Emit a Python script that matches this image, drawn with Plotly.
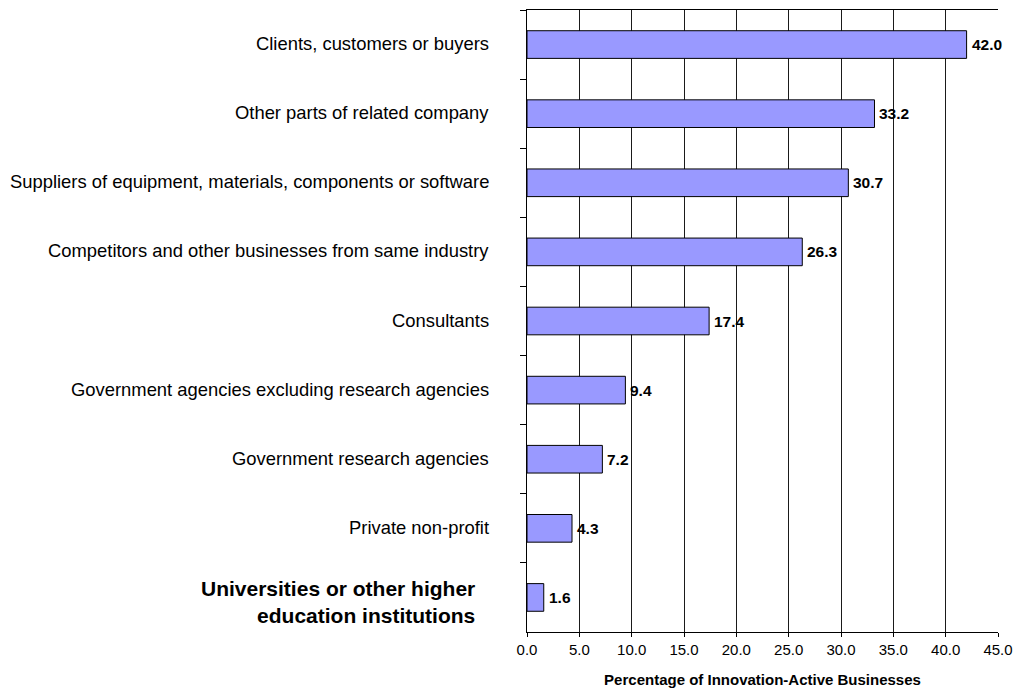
import plotly.graph_objects as go

# Collaboration partners, listed top to bottom
categories = [
    "Clients, customers or buyers",
    "Other parts of related company",
    "Suppliers of equipment, materials, components or software",
    "Competitors and other businesses from same industry",
    "Consultants",
    "Government agencies excluding research agencies",
    "Government research agencies",
    "Private non-profit",
    "Universities or other higher education institutions",
]
values = [42.0, 33.2, 30.7, 26.3, 17.4, 9.4, 7.2, 4.3, 1.6]
x_ticks = [0, 5, 10, 15, 20, 25, 30, 35, 40, 45]
x_title = "Percentage of Innovation-Active Businesses"
highlight = "Universities or other higher education institutions"
highlight_text = "Universities or other higher<br>education institutions"

FONT = "Liberation Sans, Arial, sans-serif"

fig = go.Figure(
    go.Bar(
        x=values,
        y=categories,
        orientation="h",
        marker=dict(color="#9999FF", line=dict(color="#000000", width=1)),
        width=0.4,
        hoverinfo="x+y",
    )
)

# category names on the left
for cat in categories:
    if cat == highlight:
        fig.add_annotation(
            x=0, xref="paper", y=cat, yref="y",
            text="<b>" + highlight_text + "</b>",
            xanchor="right", yanchor="middle", align="right",
            xshift=-50, yshift=-5, showarrow=False,
            font=dict(family=FONT, size=21, color="#000000"),
        )
    else:
        fig.add_annotation(
            x=0, xref="paper", y=cat, yref="y",
            text=cat,
            xanchor="right", yanchor="middle", align="right",
            xshift=-36, yshift=1, showarrow=False,
            font=dict(family=FONT, size=18.4, color="#000000"),
        )

# value labels at the end of each bar
for cat, v in zip(categories, values):
    fig.add_annotation(
        x=v, xref="x", y=cat, yref="y",
        text="<b>%.1f</b>" % v,
        xanchor="left", yanchor="middle", xshift=3,
        showarrow=False,
        font=dict(family=FONT, size=15.5, color="#000000"),
    )

fig.update_layout(
    width=1016,
    height=688,
    margin=dict(l=527, r=18, t=10, b=56, autoexpand=False),
    paper_bgcolor="#FFFFFF",
    plot_bgcolor="#FFFFFF",
    showlegend=False,
    font=dict(family=FONT, size=15, color="#000000"),
    xaxis=dict(
        range=[0, 45],
        tickvals=x_ticks,
        ticktext=["%.1f" % t for t in x_ticks],
        showgrid=True,
        gridcolor="#1a1a1a",
        gridwidth=1,
        zeroline=False,
        showline=True,
        linecolor="#000000",
        linewidth=1,
        mirror=True,
        ticks="outside",
        ticklen=4,
        tickcolor="#000000",
        tickfont=dict(family=FONT, size=15, color="#000000"),
        ticklabelstandoff=0,
        automargin=False,
        title=dict(
            text="<b>" + x_title + "</b>",
            font=dict(family=FONT, size=15, color="#000000"),
            standoff=24,
        ),
        fixedrange=True,
    ),
    yaxis=dict(
        type="category",
        autorange="reversed",
        showticklabels=False,
        tickson="boundaries",
        ticks="outside",
        ticklen=6,
        tickcolor="#000000",
        showgrid=False,
        showline=True,
        linecolor="#000000",
        linewidth=1,
        automargin=False,
        fixedrange=True,
    ),
)

fig.write_html("out.html")
